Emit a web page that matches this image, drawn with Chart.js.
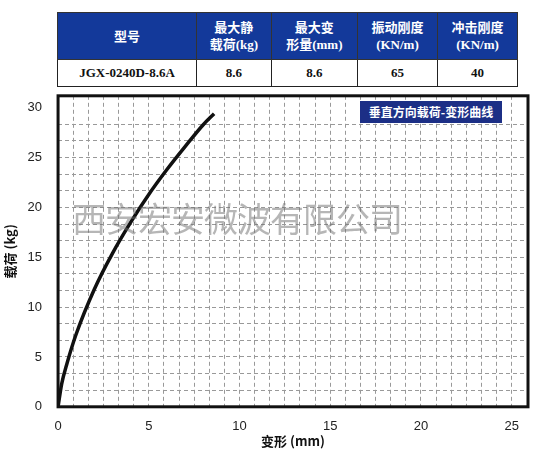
<!DOCTYPE html>
<html><head><meta charset="utf-8">
<script src="https://cdn.jsdelivr.net/npm/chart.js@4"></script>
<style>
body{margin:0;background:#fff;width:538px;height:449px;position:relative;overflow:hidden;font-family:"Liberation Serif","Noto Sans CJK SC",serif}
table{position:absolute;left:57px;top:12px;width:461px;border-collapse:collapse;font-weight:bold;font-size:13px;text-align:center}
th{background:#13399a;color:#fff;font-weight:bold;height:44px;border:1px solid #333;line-height:17px}
td{border:1.5px solid #222;height:24px;color:#111}
#wrap{position:absolute;left:0;top:80px;width:538px;height:369px}
#legend{position:absolute;left:360px;top:101px;width:142px;height:22px;background:#1c2f86;color:#fff;font:bold 12px "Noto Sans CJK SC";line-height:22px;text-align:center}
#wm{position:absolute;left:72px;top:193px;font:34px "Noto Sans CJK SC",serif;color:rgba(110,110,110,0.5);letter-spacing:-1px}
</style></head><body>
<table>
<tr><th style="width:136px">型号</th><th>最大静<br>载荷(kg)</th><th>最大变<br>形量(mm)</th><th>振动刚度<br>(KN/m)</th><th>冲击刚度<br>(KN/m)</th></tr>
<tr><td>JGX-0240D-8.6A</td><td>8.6</td><td>8.6</td><td>65</td><td>40</td></tr>
</table>
<div id="wrap"><canvas id="c" width="538" height="369"></canvas></div>
<div id="legend">垂直方向载荷-变形曲线</div>
<div id="wm">西安宏安微波有限公司</div>
<script>
const deform = [0, 0.2, 0.5, 1, 2, 3, 4, 5, 6, 7, 8, 8.6];
const load = [0, 2.3, 4.4, 7.3, 11.8, 15.4, 18.5, 21.3, 23.8, 26.1, 28.3, 29.4];
const xTicks = [0, 5, 10, 15, 20, 25];
const yTicks = [0, 5, 10, 15, 20, 25, 30];

const frame = {
  id: 'frame',
  afterDraw(chart) {
    const a = chart.chartArea, ctx = chart.ctx;
    ctx.save(); ctx.strokeStyle = '#111'; ctx.lineWidth = 3;
    ctx.strokeRect(a.left, a.top, a.right - a.left, a.bottom - a.top);
    ctx.restore();
  }
};

new Chart(document.getElementById('c'), {
  type: 'scatter',
  data: { datasets: [{
    data: deform.map((x, i) => ({ x, y: load[i] })),
    showLine: true, borderColor: '#111', borderWidth: 3.5, pointRadius: 0, cubicInterpolationMode: 'monotone'
  }]},
  options: {
    responsive: false, animation: false,
    layout: { padding: { left: 0, right: 10, top: 8, bottom: 0 } },
    plugins: { legend: { display: false }, tooltip: { enabled: false } },
    scales: {
      x: { type: 'linear', min: 0, max: 25.9,
        afterBuildTicks: s => { s.ticks = xTicks.map(v => ({ value: v })); },
        grid: { display: false }, border: { display: false },
        ticks: { color: '#222', padding: 4, font: { size: 13, family: 'Liberation Sans' } },
        title: { display: true, text: '变形 (mm)', color: '#111', padding: { top: -5, bottom: 0 }, font: { size: 13, weight: 'bold', family: 'Noto Sans CJK SC' } } },
      xg: { type: 'linear', position: 'bottom', min: 0, max: 25.9, display: true,
        ticks: { display: false, stepSize: 5 / 6 }, border: { display: false, dash: [4, 3] },
        grid: { color: '#999', lineWidth: 1, drawTicks: false } },
      y: { min: 0, max: 31.2,
        afterBuildTicks: s => { s.ticks = yTicks.map(v => ({ value: v })); },
        grid: { display: false }, border: { display: false },
        ticks: { color: '#222', padding: 8, font: { size: 13, family: 'Liberation Sans' } },
        title: { display: true, text: '载荷 (kg)', color: '#111', padding: 2, font: { size: 13, weight: 'bold', family: 'Noto Sans CJK SC' } } },
      yg: { min: 0, max: 31.2, position: 'left', display: true,
        ticks: { display: false, stepSize: 5 / 3 }, border: { display: false, dash: [4, 3] },
        grid: { color: '#999', lineWidth: 1, drawTicks: false } }
    }
  },
  plugins: [frame]
});
</script>
</body></html>
